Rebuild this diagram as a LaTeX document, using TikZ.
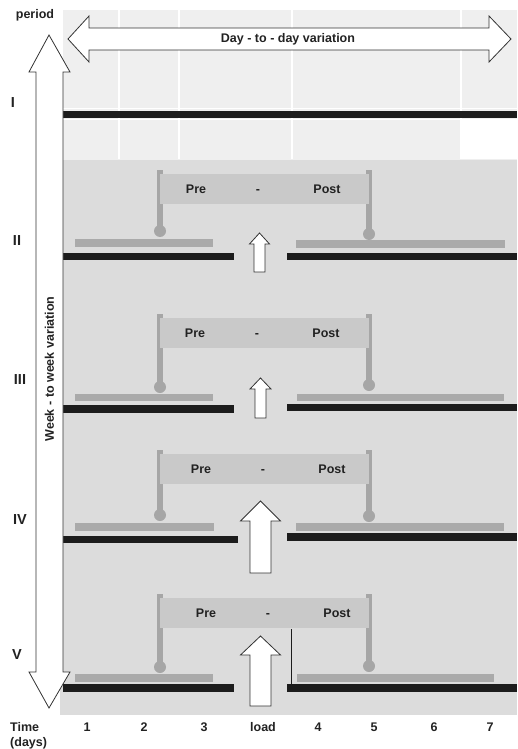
\documentclass[tikz,border=0pt]{standalone}
\usepackage{fontspec}
\setmainfont{Liberation Sans}
\definecolor{txt}{HTML}{222222}
\definecolor{bgtop}{HTML}{EFEFEF}
\definecolor{bgmain}{HTML}{DCDCDC}
\definecolor{barblack}{HTML}{1C1C1C}
\definecolor{bargrey}{HTML}{AAAAAA}
\definecolor{boxgrey}{HTML}{C9C9C9}
\definecolor{stemgrey}{HTML}{A6A6A6}
\definecolor{arrowline}{HTML}{333333}
\newcommand\prepostunit[5]{%
  % #1 name, #2 box top, #3 left circle y, #4 right circle y, #5 Pre x
  \fill[stemgrey] (157,#2-4) rectangle (163,#3);
  \fill[stemgrey] (366,#2-4) rectangle (372,#4);
  \fill[stemgrey] (160,#3) circle[radius=6pt];
  \fill[stemgrey] (369,#4) circle[radius=6pt];
  \fill[boxgrey] (160,#2) rectangle (369,#2+30);
  \node[lbl, anchor=base] (#1pre) at (#5,#2+19.5) {Pre};
  \node[lbl, anchor=base] (#1dash) at (#5+62,#2+19.5) {-};
  \node[lbl, anchor=base] (#1post) at (#5+131,#2+19.5) {Post};
}
\newcommand\loadarrow[7]{%
  % #1 tip x, #2 tip y, #3 head base y, #4 head half width, #5 shaft half width, #6 bottom y, #7 name
  \draw[bigarrow] (#1,#2) -- (#1+#4,#3) -- (#1+#5,#3) -- (#1+#5,#6)
     -- (#1-#5,#6) -- (#1-#5,#3) -- (#1-#4,#3) -- cycle;
  \coordinate (#7) at (#1,#2);
}
\begin{document}
\begin{tikzpicture}[x=1pt,y=-1pt,
  lbl/.style={font=\fontsize{12.5}{14}\selectfont\bfseries, text=txt, inner sep=0pt},
  roman/.style={font=\fontsize{14.5}{16}\selectfont\bfseries, text=txt, inner sep=0pt},
  blackbar/.style={fill=barblack},
  greybar/.style={fill=bargrey},
  bigarrow/.style={fill=white, draw=arrowline, line width=0.8pt, line join=miter},
  gridline/.style={draw=white, line width=2pt}]
\useasboundingbox (0,0) rectangle (517,749);
\fill[white] (0,0) rectangle (517,749);
% backgrounds
\fill[bgtop] (63,10) rectangle (517,160);
\fill[white] (461,120) rectangle (517,159);
\foreach \gx in {119,179,292,461} \draw[gridline] (\gx,10) -- (\gx,159);
\draw[white, line width=1pt] (63,109) -- (517,109);
\draw[white, line width=1pt] (63,120) -- (517,120);
\fill[bgmain] (60,160) rectangle (517,715);
% row I
\fill[blackbar] (63,111) rectangle (517,118);
% row II
\prepostunit{two}{174}{231}{234}{196}
\fill[greybar] (75,239) rectangle (213,247);
\fill[greybar] (296,240) rectangle (505,248);
\fill[blackbar] (63,253) rectangle (234,260);
\fill[blackbar] (287,253) rectangle (517,260);
\loadarrow{259.5}{233}{244}{10}{5.5}{272}{loadtwo}
% row III
\prepostunit{three}{318}{387}{385}{195}
\fill[greybar] (75,394) rectangle (213,401);
\fill[greybar] (297,394) rectangle (504,401);
\fill[blackbar] (63,405) rectangle (234,413);
\fill[blackbar] (287,404) rectangle (517,411);
\loadarrow{260.5}{378}{389}{10.5}{5.5}{418}{loadthree}
% row IV
\prepostunit{four}{454}{515}{516}{201}
\fill[greybar] (75,523) rectangle (214,531);
\fill[greybar] (296,523) rectangle (504,531);
\fill[blackbar] (63,536) rectangle (238,543);
\fill[blackbar] (287,533) rectangle (517,541);
\loadarrow{260.5}{501}{521}{20}{10.5}{573}{loadfour}
% row V
\prepostunit{five}{598}{667}{666}{206}
\fill[greybar] (75,674) rectangle (213,682);
\fill[greybar] (297,674) rectangle (494,682);
\fill[blackbar] (63,684) rectangle (234,692);
\fill[blackbar] (287,684) rectangle (517,692);
\coordinate (vtop) at (291,629);
\coordinate (vbot) at (291,686);
\draw[barblack, line width=1pt] (vtop) -- (vbot);
\loadarrow{260.5}{636}{655}{20}{10.5}{706}{loadfive}
% week-to-week arrow
\draw[bigarrow] (49,35) -- (70,72) -- (63,72) -- (63,672) -- (70,672) -- (49,708)
  -- (29,672) -- (36,672) -- (36,72) -- (29,72) -- cycle;
\node[lbl, rotate=90] (week) at (49.5,369) {Week - to week variation};
% day-to-day arrow
\draw[bigarrow] (68,39) -- (89,16) -- (89,28) -- (489,28) -- (489,16) -- (511,39)
  -- (489,62) -- (489,50) -- (89,50) -- (89,62) -- cycle;
\node[lbl] (day) at (288,39) {Day - to - day variation};
% period labels
\node[lbl] (period) at (35,15) {period};
\node[roman] (pI) at (13,103) {I};
\node[roman] (pII) at (17,241) {II};
\node[roman] (pIII) at (20,380) {III};
\node[roman] (pIV) at (20,520) {IV};
\node[roman] (pV) at (17,655) {V};
% time axis
\node[lbl, anchor=west] (time) at (10,727) {Time};
\node[lbl, anchor=west] (days) at (10,743) {(days)};
\node[lbl] (d1) at (87,727) {1};
\node[lbl] (d2) at (144,727) {2};
\node[lbl] (d3) at (204,727) {3};
\node[lbl] (dload) at (263,727) {load};
\node[lbl] (d4) at (318,727) {4};
\node[lbl] (d5) at (374,727) {5};
\node[lbl] (d6) at (434,727) {6};
\node[lbl] (d7) at (490,727) {7};
\end{tikzpicture}
\end{document}
